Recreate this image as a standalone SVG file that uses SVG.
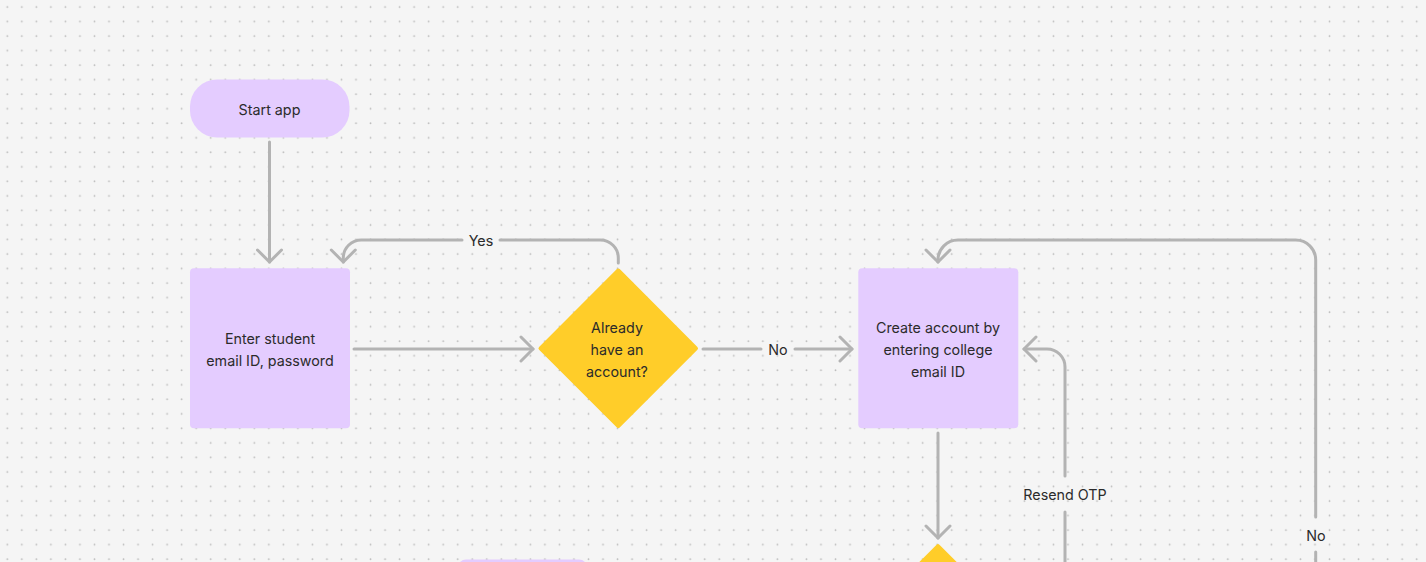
<svg xmlns="http://www.w3.org/2000/svg" width="1426" height="562" viewBox="0 0 1426 562">
<defs>
<pattern id="dots" width="14.53" height="14.53" patternUnits="userSpaceOnUse">
<circle cx="7.3" cy="7.05" r="0.9" fill="#bdbdbd"/>
</pattern>
<marker id="ah" viewBox="-14 -14 16 28" markerWidth="16" markerHeight="28" refX="0" refY="0" orient="auto" markerUnits="userSpaceOnUse">
<path d="M-12,-12 L0,0 L-12,12" fill="none" stroke="#b3b3b3" stroke-width="3" stroke-linecap="round" stroke-linejoin="round"/>
</marker>
<style>
.proc{fill:#e4ccff}
.dec{fill:#ffcd29;stroke:#ffcd29;stroke-width:4;stroke-linejoin:round}
.t{font-family:Inter,"Liberation Sans",sans-serif;font-size:14.3px;fill:#2b2b2b;text-anchor:middle;dominant-baseline:central}
.c{fill:none;stroke:#b3b3b3;stroke-width:3;stroke-linecap:round;stroke-linejoin:round}
</style>
</defs>
<rect width="1426" height="562" fill="#f5f5f5"/>
<rect width="1426" height="562" fill="url(#dots)"/>

<g id="connectors">
<path class="c" d="M269.5,142 V262" marker-end="url(#ah)"/>
<path class="c" d="M354,349 H533" marker-end="url(#ah)"/>
<path class="c" d="M618.3,263 V258 A18,18 0 0 0 600.3,240 H500"/>
<path class="c" d="M462,240 H361.3 A18,18 0 0 0 343.3,258 V262" marker-end="url(#ah)"/>
<text class="t" x="481" y="240">Yes</text>
<path class="c" d="M703,349 H761"/>
<path class="c" d="M795,349 H852" marker-end="url(#ah)"/>
<text class="t" x="778" y="349">No</text>
<path class="c" d="M938,433 V538" marker-end="url(#ah)"/>
<path class="c" d="M1065,562 V512"/>
<path class="c" d="M1065,476 V367 A18,18 0 0 0 1047,349 H1024" marker-end="url(#ah)"/>
<text class="t" x="1065" y="494">Resend OTP</text>
<path class="c" d="M1315.7,562 V552"/>
<path class="c" d="M1315.7,517 V260 A20,20 0 0 0 1295.7,240 H958 A20,20 0 0 0 938,260 V262" marker-end="url(#ah)"/>
<text class="t" x="1316" y="535">No</text>
</g>

<g id="start">
<rect class="proc" x="190" y="79.5" width="159.5" height="58" rx="27"/>
<text class="t" x="269.5" y="109">Start app</text>
</g>
<g id="enter">
<rect class="proc" x="190" y="268.3" width="160" height="160" rx="4"/>
<text class="t" x="270" y="338">Enter student</text>
<text class="t" x="270" y="360">email ID, password</text>
</g>
<g id="already">
<polygon class="dec" points="618.3,270.5 696,348.3 618.3,426 540.5,348.3"/>
<text class="t" x="617" y="327">Already</text>
<text class="t" x="617" y="349">have an</text>
<text class="t" x="617" y="371">account?</text>
</g>
<g id="create">
<rect class="proc" x="858.3" y="268.3" width="160" height="160" rx="4"/>
<text class="t" x="938" y="327">Create account by</text>
<text class="t" x="938" y="349">entering college</text>
<text class="t" x="938" y="371">email ID</text>
</g>
<g id="decision2">
<polygon class="dec" points="938,546.2 1016,624 938,702 860,624"/>
</g>
<g id="bottom-node">
<rect class="proc" x="458" y="559.5" width="129" height="60" rx="8"/>
</g>
</svg>
